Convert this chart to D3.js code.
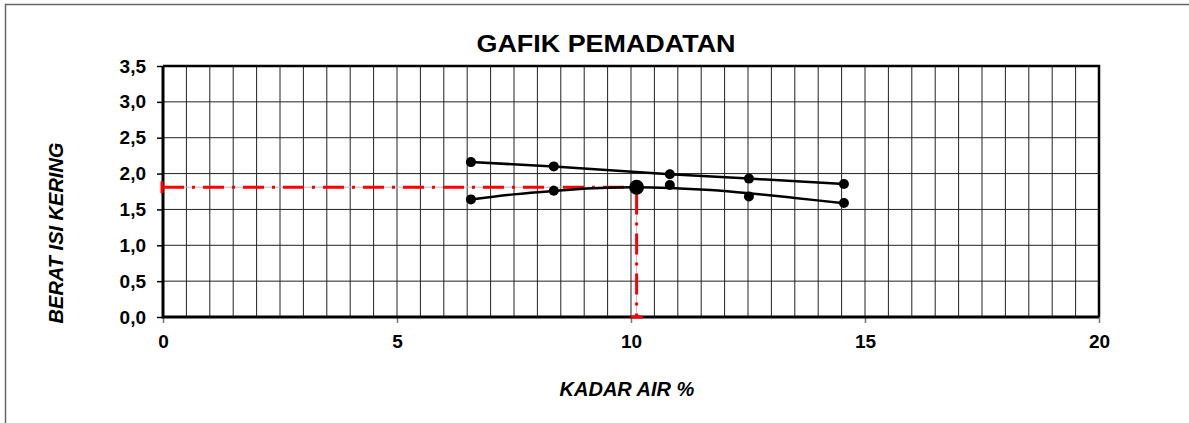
<!DOCTYPE html>
<html>
<head>
<meta charset="utf-8">
<script src="https://cdn.jsdelivr.net/npm/d3@7"></script>
<style>
  body { margin: 0; background: #fff; }
  svg text { font-family: Arial, "Liberation Sans", sans-serif; }
</style>
</head>
<body>
<div id="chart"></div>
<script>
// data
const kadarAir = [6.58, 8.35, 10.83, 12.52, 14.55];
const beratIsiKering = [1.64, 1.76, 1.84, 1.68, 1.59];
const zavValues = [2.16, 2.10, 1.99, 1.93, 1.855];
// trend curve through the compaction points
const curveX = [6.58, 7.5, 8.35, 9.2, 10.12, 10.83, 11.7, 12.52, 13.5, 14.55];
const curveY = [1.64, 1.71, 1.757, 1.795, 1.81, 1.80, 1.77, 1.725, 1.66, 1.586];
const optimum = {x: 10.12, y: 1.81};
const xTicks = [0, 5, 10, 15, 20];
const yTicks = [0, 0.5, 1, 1.5, 2, 2.5, 3, 3.5];

const width = 1189, height = 423;
const margin = {left: 163, right: 90, top: 66, bottom: 106};
const fontsize = 19;

let svg = d3.select("#chart").append("svg")
    .attr("width", width)
    .attr("height", height);

// outer frame
svg.append("path")
    .attr("d", "M5.5," + height + "V4.5H" + width)
    .attr("fill", "none")
    .attr("stroke", "#666")
    .attr("stroke-width", 1.5);

let xScale = d3.scaleLinear()
    .domain([0, 20])
    .range([margin.left, width - margin.right]);

let yScale = d3.scaleLinear()
    .domain([0, 3.5])
    .range([height - margin.bottom, margin.top]);

//#region grid
let gridX = d3.range(0, 20.01, 0.5);
svg.append("g").selectAll("line")
    .data(gridX)
    .join("line")
    .attr("x1", d => xScale(d)).attr("x2", d => xScale(d))
    .attr("y1", yScale(0)).attr("y2", yScale(3.5))
    .attr("stroke", "#222")
    .attr("stroke-width", 1);

svg.append("g").selectAll("line")
    .data(yTicks)
    .join("line")
    .attr("x1", xScale(0)).attr("x2", xScale(20))
    .attr("y1", d => yScale(d)).attr("y2", d => yScale(d))
    .attr("stroke", "#222")
    .attr("stroke-width", 1);
//#endregion

//#region axes
let yAxis = d3.axisLeft(yScale)
    .tickValues(yTicks)
    .tickSize(6)
    .tickPadding(11)
    .tickFormat(d => d3.format(".1f")(d).replace(".", ","));

svg.append("g")
    .attr("transform", "translate(" + xScale(0) + ",0)")
    .call(yAxis)
    .call(g => g.select(".domain").remove())
    .call(g => g.selectAll("line").attr("stroke", "#000").attr("stroke-width", 1.5))
    .call(g => g.selectAll("text")
        .attr("font-size", fontsize).attr("font-weight", "bold").attr("fill", "#000")
        .attr("font-family", "Arial, 'Liberation Sans', sans-serif"));

let xAxis = d3.axisBottom(xScale)
    .tickValues(xTicks)
    .tickSize(6)
    .tickPadding(12)
    .tickFormat(d3.format("d"));

svg.append("g")
    .attr("transform", "translate(0," + yScale(0) + ")")
    .call(xAxis)
    .call(g => g.select(".domain").remove())
    .call(g => g.selectAll("line").attr("stroke", "#777").attr("stroke-width", 1.5))
    .call(g => g.selectAll("text")
        .attr("font-size", fontsize).attr("font-weight", "bold").attr("fill", "#000")
        .attr("font-family", "Arial, 'Liberation Sans', sans-serif"));

// plot border: heavy left/bottom, lighter top/right
svg.append("path")
    .attr("d", "M" + xScale(0) + "," + yScale(3.5) + "H" + xScale(20) + "V" + yScale(0))
    .attr("fill", "none").attr("stroke", "#000").attr("stroke-width", 2.5);
svg.append("path")
    .attr("d", "M" + xScale(0) + "," + yScale(3.5) + "V" + yScale(0) + "H" + xScale(20))
    .attr("fill", "none").attr("stroke", "#000").attr("stroke-width", 3);
//#endregion

//#region optimum guide lines
let guide = "M" + xScale(0) + "," + yScale(optimum.y) +
            "H" + xScale(optimum.x) + "V" + yScale(0);
svg.append("path")
    .attr("d", guide)
    .attr("fill", "none").attr("stroke", "#bbb").attr("stroke-width", 1);
svg.append("path")
    .attr("d", guide)
    .attr("fill", "none").attr("stroke", "#ff0000").attr("stroke-width", 3)
    .attr("stroke-dasharray", "21,8,3,8");
// end caps
svg.append("line")
    .attr("x1", xScale(0) - 1).attr("x2", xScale(0) - 1)
    .attr("y1", yScale(optimum.y) - 6).attr("y2", yScale(optimum.y) + 6)
    .attr("stroke", "#ff0000").attr("stroke-width", 3);
svg.append("line")
    .attr("x1", xScale(optimum.x) - 6).attr("x2", xScale(optimum.x) + 6)
    .attr("y1", yScale(0)).attr("y2", yScale(0))
    .attr("stroke", "#ff0000").attr("stroke-width", 3);
//#endregion

//#region series
let zavData = kadarAir.map((x, i) => ({x: x, y: zavValues[i]}));
let compData = kadarAir.map((x, i) => ({x: x, y: beratIsiKering[i]}));
let curveData = curveX.map((x, i) => ({x: x, y: curveY[i]}));

let lineFn = d3.line()
    .x(d => xScale(d.x))
    .y(d => yScale(d.y));

svg.append("path")
    .datum(zavData)
    .attr("d", lineFn)
    .attr("fill", "none").attr("stroke", "#000").attr("stroke-width", 2.5);

svg.append("path")
    .datum(curveData)
    .attr("d", lineFn.curve(d3.curveCatmullRom))
    .attr("fill", "none").attr("stroke", "#000").attr("stroke-width", 2.5);

svg.append("g").selectAll("circle")
    .data(zavData.concat(compData))
    .join("circle")
    .attr("cx", d => xScale(d.x))
    .attr("cy", d => yScale(d.y))
    .attr("r", 5)
    .attr("fill", "#000");

svg.append("circle")
    .attr("cx", xScale(optimum.x))
    .attr("cy", yScale(optimum.y))
    .attr("r", 7.5)
    .attr("fill", "#000");
//#endregion

//#region titles
svg.append("text")
    .attr("x", 606).attr("y", 52)
    .attr("text-anchor", "middle")
    .attr("font-size", 23).attr("font-weight", "bold")
    .attr("textLength", 259).attr("lengthAdjust", "spacingAndGlyphs")
    .text("GAFIK PEMADATAN");

svg.append("text")
    .attr("transform", "translate(63,233)rotate(-90)")
    .attr("text-anchor", "middle")
    .attr("font-size", 20).attr("font-weight", "bold").attr("font-style", "italic")
    .text("BERAT ISI KERING");

svg.append("text")
    .attr("x", 627).attr("y", 396)
    .attr("text-anchor", "middle")
    .attr("font-size", 20).attr("font-weight", "bold").attr("font-style", "italic")
    .text("KADAR AIR %");
//#endregion
</script>
</body>
</html>
